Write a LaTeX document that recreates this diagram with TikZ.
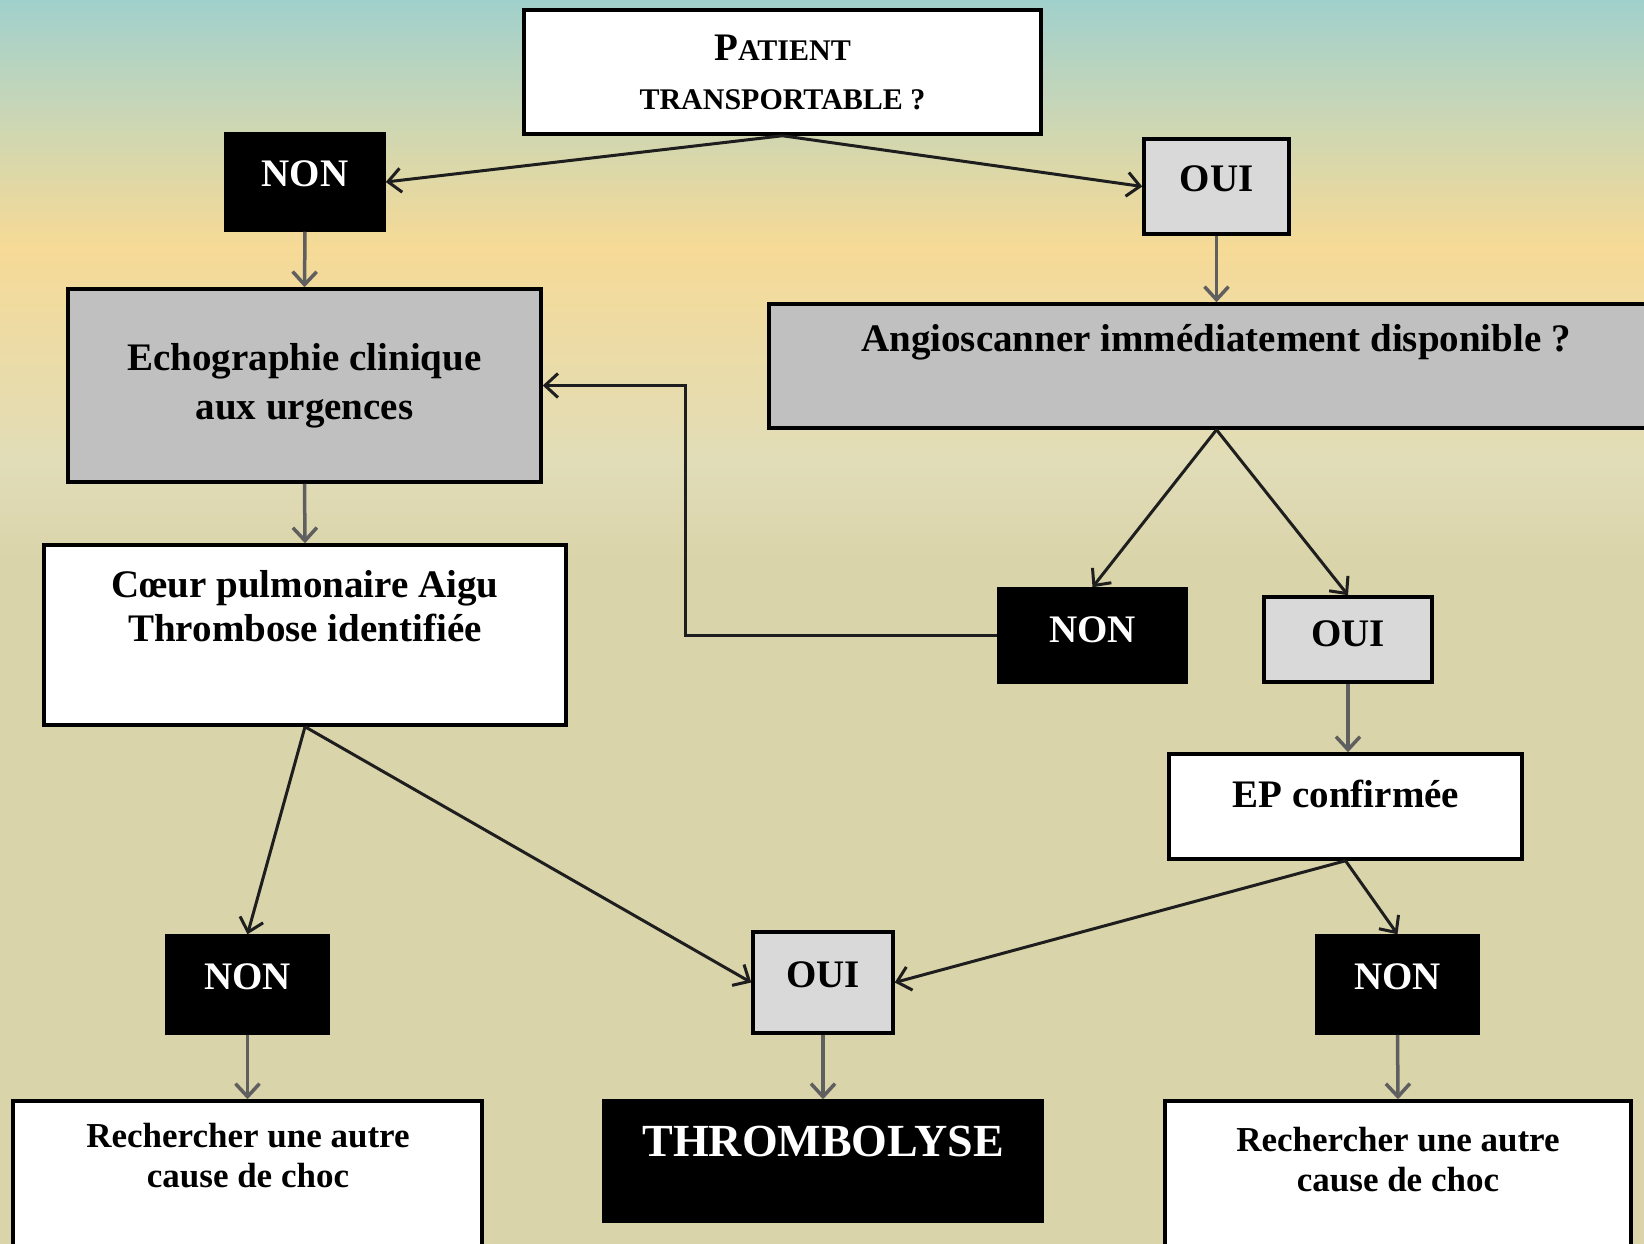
\documentclass[tikz,border=0pt]{standalone}
\usepackage{fontspec}
\setmainfont{Liberation Serif}
\usetikzlibrary{arrows.meta,calc}
\definecolor{bgA}{HTML}{A0D0CC}
\definecolor{bgB}{HTML}{C6D6B8}
\definecolor{bgC}{HTML}{F6DA96}
\definecolor{bgD}{HTML}{E1DDB8}
\definecolor{bgE}{HTML}{DAD4AA}
\definecolor{silver}{RGB}{192,192,192}
\definecolor{lightg}{RGB}{217,217,217}
\definecolor{lineg}{RGB}{30,30,30}
\definecolor{linev}{RGB}{95,95,95}
\tikzset{
  box/.style={draw=black, line width=3.5pt, rectangle, inner sep=0pt, align=center,
              font=\bfseries\fontsize{39}{49}\selectfont},
  wbox/.style={box, fill=white},
  sbox/.style={box, fill=silver},
  lbox/.style={box, fill=lightg},
  kbox/.style={box, fill=black, text=white},
  txt/.style={inner sep=0pt, align=center, font=\bfseries\fontsize{39}{44}\selectfont},
  conn/.style={draw=lineg, line width=3pt, -{Straight Barb[length=13pt,width=24pt]}},
  vconn/.style={draw=linev, line width=3.5pt, -{Straight Barb[length=13pt,width=24pt]}}
}
\begin{document}
\begin{tikzpicture}[x=1pt,y=-1pt]
\useasboundingbox (0,0) rectangle (1644,1244);
\clip (0,0) rectangle (1644,1244);
% background
\shade[top color=bgA, bottom color=bgB] (0,0) rectangle (1644,104);
\shade[top color=bgB, bottom color=bgC] (0,103) rectangle (1644,247);
\shade[top color=bgC, bottom color=bgD] (0,246) rectangle (1644,461);
\shade[top color=bgD, bottom color=bgE] (0,460) rectangle (1644,561);
\fill[bgE] (0,560) rectangle (1644,1244);

% boxes
\node[wbox, minimum width=517pt, minimum height=124pt] (top) at (782.5,72)
  {P{\fontsize{30}{45}\selectfont ATIENT}\\{\fontsize{30}{45}\selectfont TRANSPORTABLE ?}};
\node[kbox, minimum width=158pt, minimum height=96pt, text depth=16pt] (non1) at (305,182) {NON};
\node[lbox, minimum width=145pt, minimum height=95pt, text depth=16pt] (oui1) at (1216.5,186.5) {OUI};
\node[sbox, minimum width=473pt, minimum height=193pt] (echo) at (304.5,385.5)
  {Echographie clinique\\aux urgences};
\node[sbox, minimum width=894pt, minimum height=124pt] (angio) at (1216,366) {};
\node[txt] (angiot) at (1216,342) {Angioscanner immédiatement disponible ?};
\node[wbox, minimum width=522pt, minimum height=180pt] (coeur) at (305,635) {};
\node[txt] (coeurt) at (305,606) {Cœur pulmonaire Aigu\\Thrombose identifiée};
\node[kbox, minimum width=187pt, minimum height=93pt, text depth=12pt] (non2) at (1092.5,635.5) {NON};
\node[lbox, minimum width=168pt, minimum height=85pt, text depth=12pt] (oui2) at (1348,639.5) {OUI};
\node[wbox, minimum width=353pt, minimum height=105pt] (ep) at (1345.5,806.5) {};
\node[txt] (ept) at (1346,794) {EP confirmée};
\node[kbox, minimum width=161pt, minimum height=97pt, text depth=16pt] (non3) at (247.5,984.5) {NON};
\node[lbox, minimum width=140pt, minimum height=101pt, text depth=16pt] (oui3) at (823,982.5) {OUI};
\node[kbox, minimum width=161pt, minimum height=97pt, text depth=16pt] (non4) at (1397.5,984.5) {NON};
\node[wbox, minimum width=469pt, minimum height=170pt] (rech1) at (247.5,1186) {};
\node[txt, font=\bfseries\fontsize{35}{40}\selectfont] (rech1t) at (248,1156) {Rechercher une autre\\cause de choc};
\node[kbox, minimum width=438pt, minimum height=120pt] (thromb) at (823,1161) {};
\node[txt, text=white, font=\bfseries\fontsize{46}{50}\selectfont] (thrombt) at (823,1141) {THROMBOLYSE};
\node[wbox, minimum width=466pt, minimum height=170pt] (rech2) at (1398,1186) {};
\node[txt, font=\bfseries\fontsize{35}{40}\selectfont] (rech2t) at (1398,1160) {Rechercher une autre\\cause de choc};

% connectors
\draw[conn] (top.south) -- (non1.east);
\draw[conn] (top.south) -- (oui1.west);
\draw[vconn] (non1.south) -- (echo.north);
\draw[vconn] (oui1.south) -- (angio.north -| oui1.south);
\draw[vconn] (echo.south) -- (coeur.north);
\draw[conn] (angio.south -| oui1.south) -- (non2.north);
\draw[conn] (angio.south -| oui1.south) -- (oui2.north);
\draw[conn] (non2.west) -| ([xshift=143pt]echo.east) -- (echo.east);
\draw[vconn] (oui2.south) -- (ep.north -| oui2.south);
\draw[conn] (coeur.south) -- (non3.north);
\draw[conn] (coeur.south) -- (oui3.west);
\draw[conn] (ep.south) -- (oui3.east);
\draw[conn] (ep.south) -- (non4.north);
\draw[vconn] (non3.south) -- (rech1.north);
\draw[vconn] (oui3.south) -- (thromb.north);
\draw[vconn] (non4.south) -- (rech2.north);
\end{tikzpicture}
\end{document}
